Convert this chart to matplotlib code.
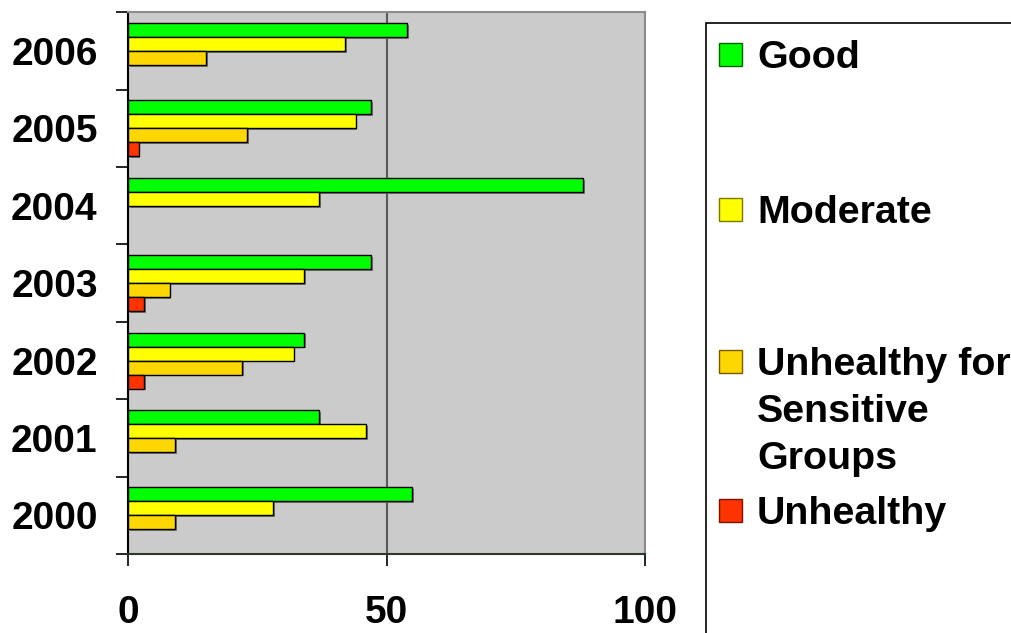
import numpy as np
import matplotlib
matplotlib.use('Agg')
import matplotlib.pyplot as plt
import matplotlib.patheffects as pe
from matplotlib.patches import Rectangle

# days per AQI category, by year
years = ['2000', '2001', '2002', '2003', '2004', '2005', '2006']
good = [55, 37, 34, 47, 88, 47, 54]
moderate = [28, 46, 32, 34, 37, 44, 42]
usg = [9, 9, 22, 8, 0, 23, 15]
unhealthy = [0, 0, 3, 3, 0, 2, 0]

series_names = ['Good', 'Moderate', 'Unhealthy for\nSensitive\nGroups', 'Unhealthy']
series_values = [good, moderate, usg, unhealthy]
colors = ['#00FF00', '#FFFF00', '#FFD700', '#FF3300']
edge_colors = ['#006600', '#7a7a00', '#7a5a00', '#7a1400']
x_ticks = [0, 50, 100]

plt.rcParams['font.family'] = ['Liberation Sans', 'DejaVu Sans']
plt.rcParams['font.weight'] = 'bold'
plt.rcParams['font.size'] = 28

W, H = 1011, 633
fig = plt.figure(figsize=(W / 100, H / 100), dpi=100)
ax = fig.add_axes([128.3 / W, 1 - 554 / H, (645 - 128.3) / W, (554 - 12.3) / H])
ax.set_facecolor('#CBCBCB')

y = np.arange(len(years))
h = 0.181
offsets = [1.5 * h, 0.5 * h, -0.5 * h, -1.5 * h]
shadow = [pe.SimplePatchShadow(offset=(1.3, -1.3), shadow_rgbFace='#777777', alpha=1), pe.Normal()]

for vals, off, c in zip(series_values, offsets, colors):
    vals = np.array(vals)
    keep = vals > 0  # no sliver for empty categories
    bars = ax.barh(y[keep] + off, vals[keep], height=h, color=c,
                   edgecolor='black', linewidth=1.0, zorder=3)
    for b in bars:
        b.set_path_effects(shadow)

ax.set_xlim(0, 100)
ax.set_ylim(-0.5, len(years) - 0.5)

ax.set_xticks(x_ticks)
ax.set_xticklabels([str(t) for t in x_ticks])
ax.tick_params(axis='x', direction='out', length=8.6, width=1.2, pad=21, colors='black')

ax.set_yticks(y)
ax.set_yticklabels(years)
ax.tick_params(axis='y', which='major', length=0, pad=22)
ax.set_yticks(np.arange(-0.5, len(years)), minor=True)
ax.tick_params(axis='y', which='minor', length=8.6, width=1.2)

ax.grid(axis='x', color='#5a5a5a', linewidth=1.5)
ax.set_axisbelow(True)

ax.spines['left'].set_color('black')
ax.spines['left'].set_linewidth(1.5)
ax.spines['bottom'].set_color('#2a3a2a')
ax.spines['bottom'].set_linewidth(1.5)
for s in ['top', 'right']:
    ax.spines[s].set_color('#8c8c8c')
    ax.spines[s].set_linewidth(1.5)

# legend panel on the right, running off the figure edge
fig.add_artist(Rectangle((706 / W, -0.1), 0.6, 1 - 22.7 / H + 0.1,
                         transform=fig.transFigure, facecolor='white',
                         edgecolor='black', linewidth=1.2, clip_on=False))

baselines = [68, 223, 375, 524]
line_step = 47
for name, c, ec, base in zip(series_names, colors, edge_colors, baselines):
    mid = base - 14
    fig.add_artist(Rectangle((719 / W, 1 - (mid + 11.5) / H), 23 / W, 23 / H,
                             transform=fig.transFigure, facecolor=c,
                             edgecolor=ec, linewidth=1.0))
    for i, line in enumerate(name.split('\n')):
        fig.text(757 / W, 1 - (base + i * line_step) / H, line,
                 va='baseline', ha='left', fontsize=28.4, fontweight='bold')

fig.savefig('out.png', dpi=100)
